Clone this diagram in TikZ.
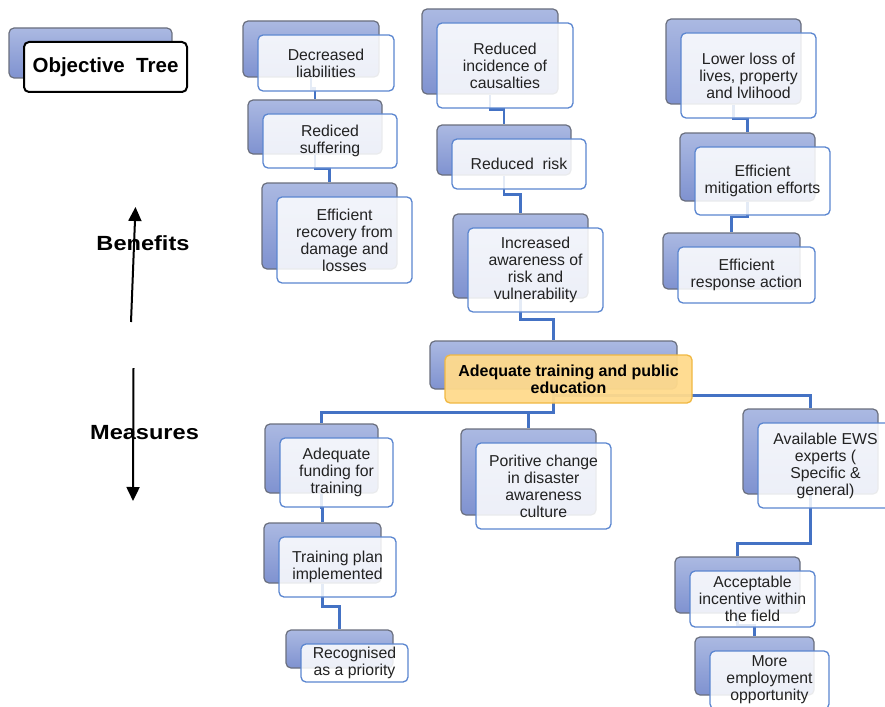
\documentclass[tikz,border=0pt]{standalone}
\usepackage{fontspec}
\setmainfont{Liberation Sans}
\newfontfamily\labelfont[FakeStretch=1.15]{Liberation Sans}
\usetikzlibrary{calc,backgrounds,arrows.meta}

\definecolor{backtop}{HTML}{ABB9E2}
\definecolor{backbot}{HTML}{7F92D0}
\definecolor{backedge}{HTML}{6A6F7E}
\definecolor{frontedge}{HTML}{5B86D0}
\definecolor{linkblue}{HTML}{4472C4}
\definecolor{corefill}{HTML}{FFDA8C}
\definecolor{coreedge}{HTML}{F0B843}
\definecolor{ink}{HTML}{222222}

\tikzset{
  backbox/.style={draw=backedge, line width=1.2pt, rounded corners=5pt,
    top color=backtop, bottom color=backbot, inner sep=0pt},
  frontbox/.style={draw=frontedge, line width=1.3pt, rounded corners=5pt,
    fill=white, fill opacity=0.86, text opacity=1, text=ink, align=center,
    inner sep=2pt, font=\fontsize{15.8}{17}\selectfont},
  corebox/.style={frontbox, draw=coreedge, fill=corefill, fill opacity=0.95,
    text=black, font=\bfseries\fontsize{16}{17}\selectfont},
  titlebox/.style={frontbox, draw=black, line width=2pt, fill opacity=1,
    text=black, font=\bfseries\fontsize{20.5}{22}\selectfont},
  conn/.style={draw=linkblue, line width=2.3pt},
  sidearrow/.style={line width=2pt, -{Triangle[width=13pt,length=14pt]}},
  sidelabel/.style={inner sep=0pt, font=\labelfont\bfseries\fontsize{20.5}{24}\selectfont},
}

% a shaded card with a lighter card laid over it, shifted right and down
% #1 style, #2 name, #3 #4 centre, #5 #6 size, #7 text
\newcommand\twobox[7]{%
  \node[backbox, minimum width=#5pt, minimum height=#6pt] (b-#2) at ($(#3,#4)+(-15,-14)$) {};
  \node[#1, minimum width=#5pt, minimum height=#6pt] (#2) at (#3,#4) {#7};}

% elbow link from the bottom of one card to the top of the next
\newcommand\elbow[2]{%
  \draw[conn] (#1.south) |- ($(#1.south)!.5!(#2.north)$) -| (#2.north);}

\begin{document}
\begin{tikzpicture}[x=1pt, y=-1pt]
\useasboundingbox (0,0) rectangle (885,706);

% title
\twobox{titlebox}{title}{105.5}{67}{163}{50}{Objective\ \ Tree}

% benefits
\twobox{frontbox}{n1}{326}{63}{136}{56}{Decreased\\liabilities}
\twobox{frontbox}{n2}{330}{141}{134}{54}{Rediced\\suffering}
\twobox{frontbox}{n3}{344.5}{240}{135}{86}{Efficient\\recovery from\\damage and\\losses}
\twobox{frontbox}{m1}{505}{65.5}{136}{85}{Reduced\\incidence of\\causalties}
\twobox{frontbox}{m2}{519}{164}{134}{50}{Reduced\ \ risk}
\twobox{frontbox}{m3}{535.5}{270}{135}{84}{Increased\\awareness of\\risk and\\vulnerability}
\twobox{frontbox}{r1}{748.5}{75.5}{135}{85}{Lower loss of\\lives, property\\and lvlihood}
\twobox{frontbox}{r2}{762.5}{181}{135}{68}{Efficient\\mitigation efforts}
\twobox{frontbox}{r3}{746.5}{275}{137}{56}{Efficient\\response action}

% core objective
\twobox{corebox}{core}{568.5}{379}{247}{48}{Adequate training and public\\education}

% measures
\twobox{frontbox}{fund}{336.5}{472.5}{113}{69}{Adequate\\funding for\\training}
\twobox{frontbox}{plan}{337.5}{567}{117}{60}{Training plan\\implemented}
\twobox{frontbox}{prio}{354.5}{663}{107}{38}{Recognised\\as a priority}
\twobox{frontbox}{culture}{543.5}{486}{135}{86}{Poritive change\\in disaster\\awareness\\culture}
\twobox{frontbox}{ews}{825.5}{465.5}{135}{85}{Available EWS\\experts (\\Specific \&\\general)}
\twobox{frontbox}{incent}{752.5}{599}{125}{56}{Acceptable\\incentive within\\the field}
\twobox{frontbox}{employ}{769.5}{680}{119}{58}{More\\employment\\opportunity}

% links, kept behind the cards
\begin{pgfonlayer}{background}
  \elbow{b-n1}{b-n2}
  \elbow{b-n2}{b-n3}
  \elbow{b-m1}{b-m2}
  \elbow{b-m2}{b-m3}
  \elbow{b-m3}{b-core}
  \elbow{b-r1}{b-r2}
  \elbow{b-r2}{b-r3}
  \draw[conn] (b-core.south) -- ++(0,23) -| (b-fund.north);
  \draw[conn] (b-core.south) -- ++(0,23) -| (b-culture.north);
  \draw[conn] (b-core.south) -- ++(0,6) -| (b-ews.north);
  \elbow{b-fund}{b-plan}
  \elbow{b-plan}{b-prio}
  \draw[conn] (b-ews.south) -- ++(0,49) -| (b-incent.north);
  \elbow{b-incent}{b-employ}
\end{pgfonlayer}

% direction markers
\node[sidelabel] (benefits) at (143,243) {Benefits};
\node[sidelabel] (measures) at (144.5,433) {Measures};
\coordinate (up-foot) at (131,322);
\coordinate (up-tip) at (135.5,207);
\coordinate (down-foot) at (133.5,368);
\coordinate (down-tip) at (133,501);
\draw[sidearrow] (up-foot) -- (up-tip);
\draw[sidearrow] (down-foot) -- (down-tip);
\end{tikzpicture}
\end{document}
